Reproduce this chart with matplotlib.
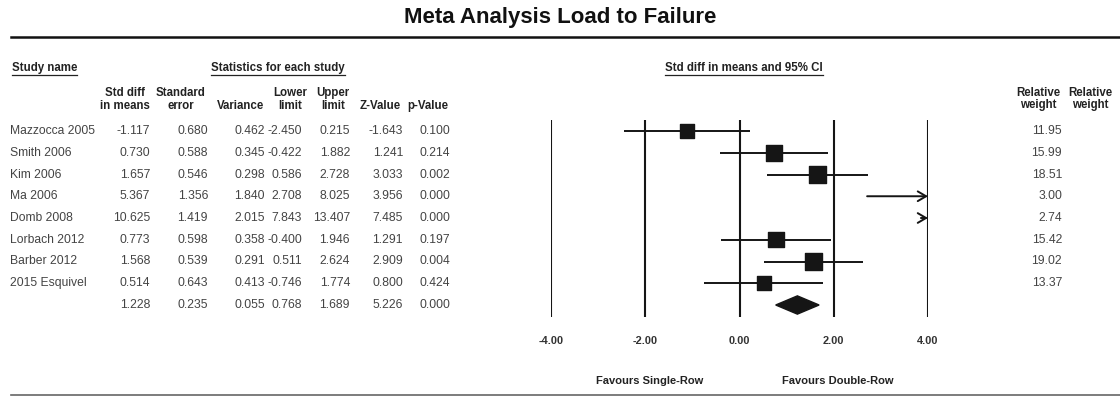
import numpy as np
import matplotlib
matplotlib.use("Agg")
import matplotlib.pyplot as plt
from matplotlib.lines import Line2D
from matplotlib.transforms import blended_transform_factory

plt.rcParams['font.family'] = ['Liberation Sans', 'DejaVu Sans']

studies = ["Mazzocca 2005", "Smith 2006", "Kim 2006", "Ma 2006", "Domb 2008",
           "Lorbach 2012", "Barber 2012", "2015 Esquivel"]
std_diff = [-1.117, 0.730, 1.657, 5.367, 10.625, 0.773, 1.568, 0.514]
std_err = [0.680, 0.588, 0.546, 1.356, 1.419, 0.598, 0.539, 0.643]
variance = [0.462, 0.345, 0.298, 1.840, 2.015, 0.358, 0.291, 0.413]
lower = [-2.450, -0.422, 0.586, 2.708, 7.843, -0.400, 0.511, -0.746]
upper = [0.215, 1.882, 2.728, 8.025, 13.407, 1.946, 2.624, 1.774]
z_val = [-1.643, 1.241, 3.033, 3.956, 7.485, 1.291, 2.909, 0.800]
p_val = [0.100, 0.214, 0.002, 0.000, 0.000, 0.197, 0.004, 0.424]
weight = [11.95, 15.99, 18.51, 3.00, 2.74, 15.42, 19.02, 13.37]

# pooled result
pooled = [1.228, 0.235, 0.055, 0.768, 1.689, 5.226, 0.000]

ticks = [-4, -2, 0, 2, 4]

W, H = 1120, 396
fig = plt.figure(figsize=(W / 100, H / 100), dpi=100)

def fx(px):
    return px / W

def fy(py):
    return 1 - py / H

# forest plot axes: -4..4 spans px 551..928, rows from y=120 to 317
row0, rstep = 131, 21.75
ax = fig.add_axes([fx(551), fy(317), fx(928 - 551), (317 - 120) / H])
ax.set_xlim(-4, 4)
ax.set_ylim((317 - row0) / rstep, (120 - row0) / rstep)
for s in ax.spines.values():
    s.set_visible(False)
ax.set_yticks([])
ax.set_xticks(ticks)
ax.set_xticklabels([f"{t:.2f}" for t in ticks], fontsize=7.9, fontweight='bold', color='#333')
ax.tick_params(axis='x', length=0, pad=14)
ax.patch.set_alpha(0)

ink = '#151515'
for t in ticks:
    ax.axvline(t, color=ink, lw=1.5, zorder=1)

n = len(studies)
rows = np.arange(n)
xmin, xmax = ax.get_xlim()
for i in range(n):
    if upper[i] > xmax:
        start = max(min(lower[i], xmax - 0.15), xmin)
        ax.annotate('', xy=(xmax, i), xytext=(start, i),
                    arrowprops=dict(arrowstyle='->,head_length=0.6,head_width=0.35',
                                    lw=1.4, color=ink, shrinkA=0, shrinkB=0))
    else:
        ax.hlines(i, max(lower[i], xmin), upper[i], color=ink, lw=1.4, zorder=2)

ax.scatter(std_diff, rows, s=7.8 * np.array(weight), marker='s', color=ink, zorder=3)

# pooled diamond
py = n
h = 0.42
ax.fill([pooled[3], pooled[0], pooled[4], pooled[0]], [py, py - h, py, py + h],
        color=ink, zorder=3)

# table text
tr = blended_transform_factory(fig.transFigure, ax.transData)
txt = '#444'
hdr = '#222'
col_right = [150, 208, 265, 302, 350, 403, 450]
cols = [std_diff, std_err, variance, lower, upper, z_val, p_val]
for i in range(n):
    ax.text(fx(10), i, studies[i], transform=tr, ha='left', va='center', fontsize=8.7, color=txt)
    for c, vals in enumerate(cols):
        ax.text(fx(col_right[c]), i, f"{vals[i]:.3f}", transform=tr, ha='right', va='center',
                fontsize=8.7, color=txt)
    ax.text(fx(1062), i, f"{weight[i]:.2f}", transform=tr, ha='right', va='center',
            fontsize=8.7, color=txt)
for c in range(len(pooled)):
    ax.text(fx(col_right[c]), n, f"{pooled[c]:.3f}", transform=tr, ha='right', va='center',
            fontsize=8.7, color=txt)

headers = [("Std diff", "in means"), ("Standard", "error"), ("", "Variance"),
           ("Lower", "limit"), ("Upper", "limit"), ("", "Z-Value"), ("", "p-Value")]
hdr_x = [125, 181, 241, 290, 333, 380, 428]
for (l1, l2), x in zip(headers, hdr_x):
    fig.text(fx(x), fy(93), l1, ha='center', va='center', fontsize=8.3, fontweight='bold', color=hdr)
    fig.text(fx(x), fy(106), l2, ha='center', va='center', fontsize=8.3, fontweight='bold', color=hdr)
for x in [1038, 1090]:
    fig.text(fx(x), fy(93), "Relative", ha='center', va='center', fontsize=8.3, fontweight='bold', color=hdr)
    fig.text(fx(x), fy(105), "weight", ha='center', va='center', fontsize=8.3, fontweight='bold', color=hdr)

underlined = [
    fig.text(fx(12), fy(68), "Study name", ha='left', va='center', fontsize=8.3, fontweight='bold', color=hdr),
    fig.text(fx(278), fy(68), "Statistics for each study", ha='center', va='center', fontsize=8.3,
             fontweight='bold', color=hdr),
    fig.text(fx(744), fy(68), "Std diff in means and 95% CI", ha='center', va='center', fontsize=8.3,
             fontweight='bold', color=hdr),
]

fig.text(fx(650), fy(381), "Favours Single-Row", ha='center', va='center', fontsize=8,
         fontweight='bold', color=hdr)
fig.text(fx(838), fy(381), "Favours Double-Row", ha='center', va='center', fontsize=8,
         fontweight='bold', color=hdr)

fig.text(0.5, fy(18), "Meta Analysis Load to Failure", ha='center', va='center', fontsize=16,
         fontweight='bold', color='#111')
fig.add_artist(Line2D([fx(11), 1], [fy(37), fy(37)], color='#111', lw=1.8))
fig.add_artist(Line2D([fx(11), 1], [fy(395), fy(395)], color='#666', lw=1.2))

# underline the section headers
fig.canvas.draw()
r = fig.canvas.get_renderer()
for t in underlined:
    bb = t.get_window_extent(r)
    yy = (bb.y0 - 0.5) / H
    fig.add_artist(Line2D([bb.x0 / W, bb.x1 / W], [yy, yy], color=hdr, lw=0.9))

fig.savefig("out.png", dpi=100)
